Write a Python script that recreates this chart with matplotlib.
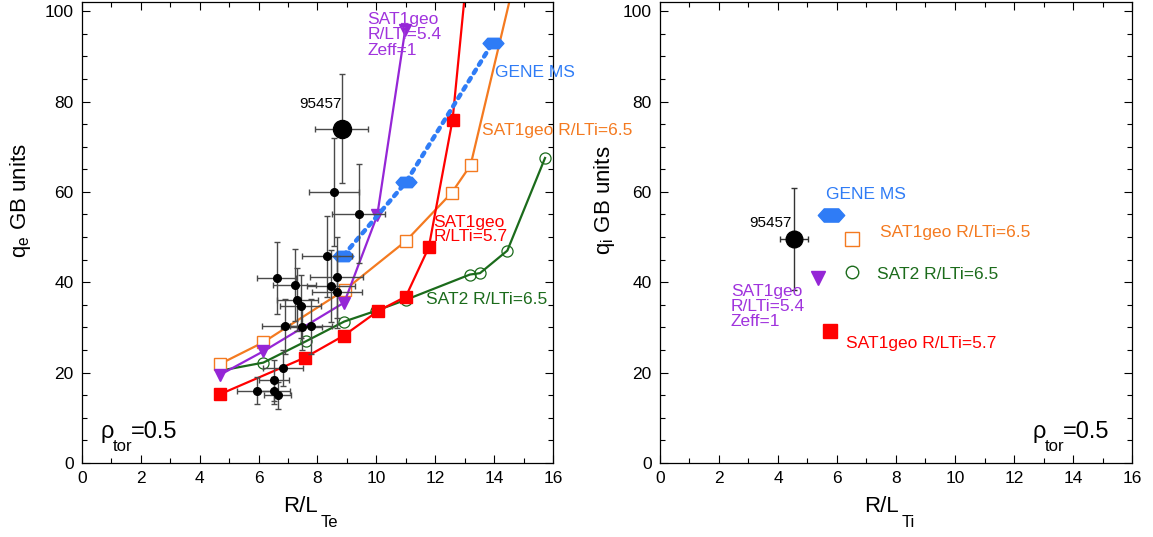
import matplotlib
matplotlib.use("Agg")
import matplotlib.pyplot as plt
from matplotlib.path import Path
from matplotlib.ticker import MultipleLocator

plt.rcParams["font.family"] = ["Liberation Sans", "DejaVu Sans"]
plt.rcParams["mathtext.fontset"] = "custom"
plt.rcParams["mathtext.rm"] = "Liberation Sans"
plt.rcParams["mathtext.it"] = "Liberation Sans"

# --- data, left panel (q_e vs R/L_Te) ---
obs_x = [5.93, 6.52, 6.65, 6.52, 6.82, 6.90, 7.47, 7.78, 7.43, 7.31,
         6.62, 7.22, 8.46, 8.67, 8.65, 8.31, 9.41, 8.56]
obs_y = [16.0, 16.0, 15.0, 18.3, 21.1, 30.2, 30.0, 30.2, 34.7, 36.1,
         40.9, 39.4, 39.2, 37.8, 41.1, 45.7, 55.2, 60.0]
obs_xerr = [0.65, 0.55, 0.45, 0.5, 0.68, 0.8, 0.7, 0.7, 0.7, 0.7,
            0.66, 0.73, 0.8, 0.85, 0.9, 0.85, 0.9, 0.86]
obs_yerr = [3, 3, 3, 4.5, 4, 6, 5, 6, 7, 7,
            8, 8, 8, 8, 9, 9, 11, 12]

shot_te = (8.82, 74.0)
shot_te_err = (0.9, 12.0)

sat1_65_x = [4.69, 6.16, 8.93, 11.0, 12.56, 13.2, 14.5]
sat1_65_y = [21.9, 26.7, 38.3, 49.1, 59.8, 65.9, 101.6]

sat1_57_x = [4.69, 7.57, 8.9, 10.05, 11.0, 11.78, 12.59, 13.0]
sat1_57_y = [15.2, 23.3, 28.2, 33.6, 36.8, 47.7, 76.0, 103.3]

sat1_54_x = [4.69, 6.16, 8.91, 10.03, 10.98]
sat1_54_y = [19.5, 24.7, 35.5, 54.8, 95.9]

sat2_x = [4.69, 6.16, 7.6, 8.91, 10.0, 11.0, 13.18, 13.52, 14.45, 15.73]
sat2_y = [20.4, 22.2, 26.9, 31.3, 33.7, 36.1, 41.7, 42.0, 47.0, 67.5]

gene_x = [8.88, 11.0, 13.95]
gene_y = [45.9, 62.1, 93.0]

# --- data, right panel (q_i vs R/L_Ti) ---
shot_ti = (4.54, 49.5)
shot_ti_err = (0.48, 11.3)
gene_i = (5.79, 54.8)
sat1_65_i = (6.5, 49.6)
sat2_i = (6.5, 42.2)
sat1_54_i = (5.37, 41.0)
sat1_57_i = (5.76, 29.2)

ORANGE = "#f47a20"
RED = "#ff0000"
PURPLE = "#9526d6"
PURPLE_T = "#a033dd"
GREEN = "#1b6b1b"
BLUE = "#2f7cf6"

hexa = Path([(-1, 0), (-0.55, 0.5), (0.55, 0.5), (1, 0), (0.55, -0.5),
             (-0.55, -0.5), (-1, 0)],
            [Path.MOVETO] + [Path.LINETO] * 5 + [Path.CLOSEPOLY])


def sub_label(ax, x, y, main, sub, size=17, subsize=12, dx=9, dy=-10,
              rest=None, rdx=22):
    # main text, lowered subscript and optional trailing text (offsets in points)
    ax.annotate(main, (x, y), xycoords="axes fraction", fontsize=size,
                ha="left", va="center", annotation_clip=False)
    ax.annotate(sub, (x, y), xycoords="axes fraction", xytext=(dx, dy),
                textcoords="offset points", fontsize=subsize, ha="left",
                va="center", annotation_clip=False)
    if rest:
        ax.annotate(rest, (x, y), xycoords="axes fraction", xytext=(rdx, 0),
                    textcoords="offset points", fontsize=size, ha="left",
                    va="center", annotation_clip=False)


fig = plt.figure(figsize=(11.53, 5.37), dpi=100)
ax1 = fig.add_axes([0.0711, 0.138, 0.4085, 0.858])
ax2 = fig.add_axes([0.5724, 0.138, 0.4094, 0.858])

for ax in (ax1, ax2):
    ax.set_xlim(0, 16)
    ax.set_ylim(0, 102)
    ax.xaxis.set_major_locator(MultipleLocator(2))
    ax.xaxis.set_minor_locator(MultipleLocator(1))
    ax.yaxis.set_major_locator(MultipleLocator(20))
    ax.yaxis.set_minor_locator(MultipleLocator(5))
    ax.tick_params(which="both", direction="in", top=True, right=True,
                   labelsize=12.5, width=0.8)
    ax.tick_params(which="major", length=6, pad=6)
    ax.tick_params(which="minor", length=3.5)
    for s in ax.spines.values():
        s.set_linewidth(0.9)

# left panel
ax1.plot(sat2_x, sat2_y, color=GREEN, lw=1.6, marker="o", ms=8,
         mfc="none", mec=GREEN, mew=0.9, markevery=list(range(1, 10)), zorder=2)
ax1.plot(sat1_65_x, sat1_65_y, color=ORANGE, lw=1.6, marker="s", ms=8,
         mfc="white", mec=ORANGE, mew=1.0, markevery=list(range(6)), zorder=2)
ax1.plot(sat1_54_x, sat1_54_y, color=PURPLE, lw=1.6, marker="v", ms=9,
         mfc=PURPLE, mec=PURPLE, zorder=2)
ax1.plot(sat1_57_x, sat1_57_y, color=RED, lw=1.6, marker="s", ms=8,
         mfc=RED, mec=RED, markevery=list(range(7)), zorder=2)
ax1.plot(gene_x, gene_y, color=BLUE, lw=3.2, ls=(0, (0.9, 1.3)),
         dash_capstyle="round", marker=hexa, ms=15, mfc=BLUE, mec=BLUE,
         zorder=2)

ax1.errorbar(obs_x, obs_y, xerr=obs_xerr, yerr=obs_yerr, fmt="o", ms=5.5,
             color="black", ecolor="#4a4a4a", elinewidth=1, capsize=2.5,
             capthick=1, zorder=3)
ax1.errorbar([shot_te[0]], [shot_te[1]], xerr=[shot_te_err[0]],
             yerr=[shot_te_err[1]], fmt="o", ms=13, color="black",
             ecolor="#4a4a4a", elinewidth=1, capsize=2.5, capthick=1, zorder=3)

ax1.text(8.83, 79.5, "95457", fontsize=11, ha="right", va="center")
ax1.text(9.7, 99.8, "SAT1geo\nR/LTi=5.4\nZeff=1", color=PURPLE_T,
         fontsize=12.5, ha="left", va="top", linespacing=1.02)
ax1.text(14.03, 86.5, "GENE MS", color=BLUE, fontsize=12.5, va="center")
ax1.text(13.6, 73.6, "SAT1geo R/LTi=6.5", color=ORANGE, fontsize=12.5,
         va="center", clip_on=False)
ax1.text(11.93, 51.6, "SAT1geo\nR/LTi=5.7", color=RED, fontsize=12.5,
         va="center", linespacing=0.9)
ax1.text(11.69, 36.1, "SAT2 R/LTi=6.5", color=GREEN, fontsize=12.5,
         va="center")
sub_label(ax1, 0.04, 0.066, "\u03c1", "tor", dx=8.4, dy=-10, rest="=0.5",
          rdx=21.6)

ax1.annotate("R/L", (0.501, -0.094), xycoords="axes fraction", fontsize=16,
             ha="right", va="center", annotation_clip=False)
ax1.annotate("Te", (0.507, -0.13), xycoords="axes fraction", fontsize=12,
             ha="left", va="center", annotation_clip=False)
ax1.set_ylabel(r"q$_{\rm e}$ GB units", fontsize=16)
ax1.yaxis.set_label_coords(-0.105, 0.57)

# right panel
ax2.errorbar([shot_ti[0]], [shot_ti[1]], xerr=[shot_ti_err[0]],
             yerr=[shot_ti_err[1]], fmt="o", ms=12, color="black",
             ecolor="#333333", elinewidth=1, capsize=2.5, capthick=1, zorder=3)
ax2.plot(*gene_i, marker=hexa, ms=19, color=BLUE, ls="none")
ax2.plot(*sat1_65_i, marker="s", ms=9.5, mfc="white", mec=ORANGE, mew=1.0,
         ls="none")
ax2.plot(*sat2_i, marker="o", ms=9, mfc="none", mec=GREEN, mew=1.0, ls="none")
ax2.plot(*sat1_54_i, marker="v", ms=10.5, color=PURPLE, ls="none")
ax2.plot(*sat1_57_i, marker="s", ms=9.5, color=RED, ls="none")

ax2.text(4.46, 53.0, "95457", fontsize=11, ha="right", va="center")
ax2.text(5.63, 59.4, "GENE MS", color=BLUE, fontsize=12.5, va="center")
ax2.text(7.46, 51.0, "SAT1geo R/LTi=6.5", color=ORANGE, fontsize=12.5,
         va="center")
ax2.text(7.36, 41.8, "SAT2 R/LTi=6.5", color=GREEN, fontsize=12.5,
         va="center")
ax2.text(2.4, 34.6, "SAT1geo\nR/LTi=5.4\nZeff=1", color=PURPLE_T,
         fontsize=12.5, va="center", linespacing=1.02)
ax2.text(6.3, 26.5, "SAT1geo R/LTi=5.7", color=RED, fontsize=12.5,
         va="center")
sub_label(ax2, 0.79, 0.066, "\u03c1", "tor", dx=8.4, dy=-10, rest="=0.5",
          rdx=21.6)

ax2.annotate("R/L", (0.505, -0.094), xycoords="axes fraction", fontsize=16,
             ha="right", va="center", annotation_clip=False)
ax2.annotate("Ti", (0.511, -0.13), xycoords="axes fraction", fontsize=12,
             ha="left", va="center", annotation_clip=False)
ax2.set_ylabel(r"q$_{\rm i}$ GB units", fontsize=16)
ax2.yaxis.set_label_coords(-0.09, 0.57)

fig.savefig("out.png", dpi=100)
